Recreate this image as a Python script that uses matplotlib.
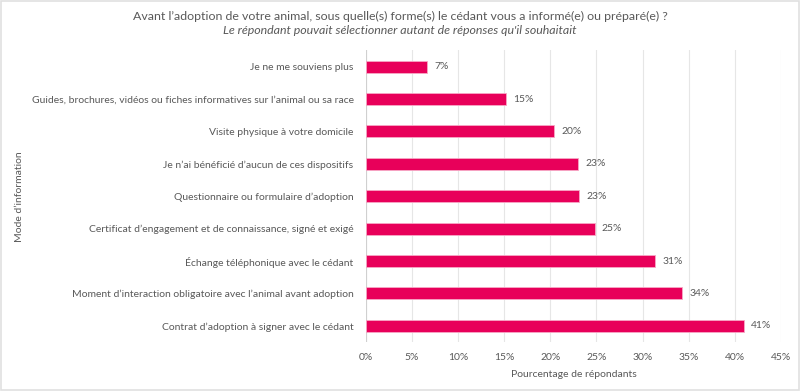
import matplotlib
matplotlib.use("Agg")
import matplotlib.pyplot as plt
from matplotlib.ticker import FuncFormatter, MultipleLocator

categories = [
    "Je ne me souviens plus",
    "Guides, brochures, vidéos ou fiches informatives sur l’animal ou sa race",
    "Visite physique à votre domicile",
    "Je n’ai bénéficié d’aucun de ces dispositifs",
    "Questionnaire ou formulaire d’adoption",
    "Certificat d’engagement et de connaissance, signé et exigé",
    "Échange téléphonique avec le cédant",
    "Moment d’interaction obligatoire avec l’animal avant adoption",
    "Contrat d’adoption à signer avec le cédant",
]
values = [6.6, 15.2, 20.4, 23.0, 23.1, 24.8, 31.4, 34.3, 41.0]
labels = ["7%", "15%", "20%", "23%", "23%", "25%", "31%", "34%", "41%"]

title = "Avant l’adoption de votre animal, sous quelle(s) forme(s) le cédant vous a informé(e) ou préparé(e) ?"
subtitle = "Le répondant pouvait sélectionner autant de réponses qu'il souhaitait"
xlabel = "Pourcentage de répondants"
ylabel = "Mode d’information"

plt.rcParams['font.family'] = ['Lato', 'DejaVu Sans']
txt = "#595959"
bar_color = "#E8005A"
fs = 7.5

fig = plt.figure(figsize=(8, 3.91), dpi=100)
ax = fig.add_axes([0.4575, 0.1253, 0.976 - 0.4575, 0.871 - 0.1253])

y = list(range(len(categories)))
ax.barh(y, values, height=0.37, color=bar_color, edgecolor="#F7A8C6", linewidth=0.6, zorder=3)
for yi, v, lab in zip(y, values, labels):
    ax.text(v + 0.8, yi, lab, va="center", ha="left", fontsize=fs, color=txt)

ax.set_yticks(y)
ax.set_yticklabels(categories, fontsize=fs, color=txt)
ax.invert_yaxis()
ax.set_ylim(len(categories) - 0.5, -0.5)
ax.set_xlim(0, 45)
ax.xaxis.set_major_locator(MultipleLocator(5))
ax.xaxis.set_major_formatter(FuncFormatter(lambda v, p: f"{int(round(v))}%"))
ax.tick_params(axis="x", labelsize=fs, colors=txt, length=0, pad=8)
ax.tick_params(axis="y", length=0, pad=9)
ax.grid(axis="x", color="#E6E6E6", linewidth=0.8, zorder=0)
for s in ax.spines.values():
    s.set_visible(False)
ax.axvline(0, color="#D0D0D0", linewidth=0.8, zorder=2)

ax.set_xlabel(xlabel, fontsize=fs, color=txt, labelpad=6)
fig.text(0.025, (0.1253 + 0.871) / 2, ylabel, rotation=90, ha="center", va="center", fontsize=fs, color=txt)

fig.text(0.5, 0.957, title, ha="center", va="center", fontsize=8.9, color=txt)
fig.text(0.5, 0.921, subtitle, ha="center", va="center", fontsize=8.9, color=txt, style="italic")

border = plt.Rectangle((0.001, 0.002), 0.998, 0.996, transform=fig.transFigure, fill=False,
                       edgecolor="#E0E0E0", linewidth=1.2)
fig.patches.append(border)

fig.savefig("out.png", dpi=100, facecolor="white")
